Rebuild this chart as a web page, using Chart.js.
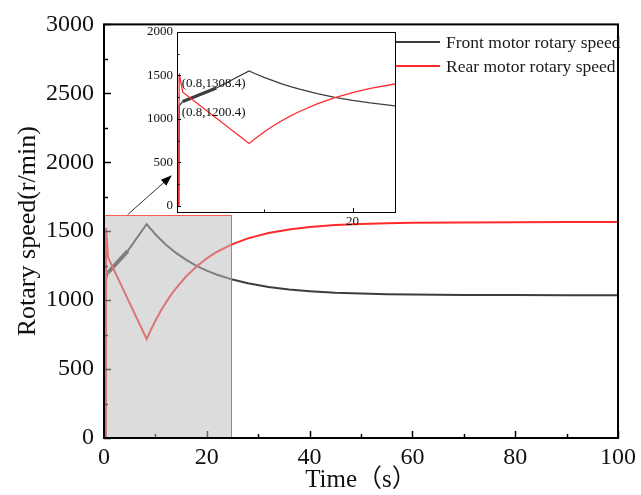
<!DOCTYPE html>
<html>
<head>
<meta charset="utf-8">
<script src="https://cdn.jsdelivr.net/npm/chart.js@4.4.1/dist/chart.umd.min.js"></script>
<style>
	html, body { margin: 0; padding: 0; background: #fff; }
	#wrap { position: relative; width: 641px; height: 495px; }
	#main { position: absolute; left: 0; top: 0; }
	#inset { position: absolute; left: 130px; top: 20px; }
</style>
</head>
<body>
<div id="wrap">
	<canvas id="main" width="641" height="495"></canvas>
	<canvas id="inset" width="280" height="215"></canvas>
</div>
<script>
'use strict';

// Series labels
var SERIES_NAMES = ['Front motor rotary speed', 'Rear motor rotary speed'];

// Front motor speed (r/min) against time (s)
var FRONT_TIME = [0, 0.35, 0.4, 0.8, 4.6, 8.3, 9, 10, 11, 12, 13, 14, 16, 18, 20, 22, 25, 28, 32, 36, 40, 45, 50, 55, 60, 70, 80, 90, 100];
var FRONT_SPEED = [0, 0, 1150, 1200.4, 1356, 1552, 1520, 1478, 1440, 1404, 1372, 1343, 1292, 1249, 1214, 1184, 1149, 1122, 1095, 1077, 1065, 1054, 1048, 1043, 1041, 1038, 1037, 1036, 1036];

// Rear motor speed (r/min) against time (s)
var REAR_TIME = [0, 0.35, 0.4, 0.8, 8.3, 9, 10, 11, 12, 13, 14, 16, 18, 20, 22, 25, 28, 32, 36, 40, 45, 50, 55, 60, 70, 80, 90, 100];
var REAR_SPEED = [0, 0, 1525, 1308.4, 718, 775, 850, 919, 980, 1036, 1086, 1173, 1244, 1303, 1351, 1406, 1448, 1487, 1513, 1530, 1545, 1553, 1558, 1561, 1564, 1565, 1566, 1566];

// Oscillating start of the front motor (drawn thicker)
var FRONT_BAND = [0.8, 4.6];

// Marked points in the zoomed view
var MARKS = [[0.8, 1308.4], [0.8, 1200.4]];

// Zoomed window: time and speed range
var ZOOM_TIME = [0, 24.8];
var ZOOM_SPEED = [0, 1615];

// Axis ticks
var X_TICKS = [0, 20, 40, 60, 80, 100];
var Y_TICKS = [0, 500, 1000, 1500, 2000, 2500, 3000];
var INSET_X_TICKS = [20];
var INSET_Y_TICKS = [0, 500, 1000, 1500, 2000];

var FONT = "'Liberation Serif', 'Noto Sans CJK SC', serif";
var FRONT_COLOR = '#3d3d3d';
var REAR_COLOR = '#ff2b2b';

Chart.defaults.font.family = FONT;
Chart.defaults.color = '#111';

function points(xs, ys) {
	return xs.map(function(x, i) { return { x: x, y: ys[i] }; });
}

function plain(v) {
	return String(v);
}

function bandWidth(normal, thick) {
	return function(ctx) {
		var a = ctx.p0.parsed.x, b = ctx.p1.parsed.x;
		return (a >= FRONT_BAND[0] && b <= FRONT_BAND[1]) ? thick : normal;
	};
}

function makeDatasets(width, thick) {
	return [ {
		label: SERIES_NAMES[0],
		data: points(FRONT_TIME, FRONT_SPEED),
		borderColor: FRONT_COLOR,
		borderWidth: width,
		pointRadius: 0,
		order: 1,
		segment: { borderWidth: bandWidth(width, thick) }
	}, {
		label: SERIES_NAMES[1],
		data: points(REAR_TIME, REAR_SPEED),
		borderColor: REAR_COLOR,
		borderWidth: width,
		pointRadius: 0,
		order: 0
	} ];
}

// inward tick marks on the left and bottom axes
function inwardTicks(chart, majorLen, minorLen, minorStep, majorList, lw) {
	var ctx = chart.ctx, a = chart.chartArea;
	ctx.save();
	ctx.strokeStyle = '#000';
	ctx.lineWidth = lw;
	['x', 'y'].forEach(function(id) {
		var s = chart.scales[id];
		var step = minorStep[id];
		var start = Math.ceil(s.min / step);
		var end = Math.floor(s.max / step);
		for (var k = start; k <= end; k++) {
			var v = k * step;
			var len = majorList[id].indexOf(v) >= 0 ? majorLen : minorLen;
			var p = Math.round(s.getPixelForValue(v)) + 0.5;
			ctx.beginPath();
			if (id === 'x') {
				ctx.moveTo(p, a.bottom);
				ctx.lineTo(p, a.bottom - len);
			} else {
				ctx.moveTo(a.left, p);
				ctx.lineTo(a.left + len, p);
			}
			ctx.stroke();
		}
	});
	ctx.restore();
}

function setTicks(values) {
	return function(scale) {
		scale.ticks = values.map(function(v) { return { value: v }; });
	};
}

/*================ Main chart ================*/

var mainDecor = {
	id: 'mainDecor',
	afterDatasetsDraw: function(chart) {
		var ctx = chart.ctx, a = chart.chartArea;
		var sx = chart.scales.x, sy = chart.scales.y;

		inwardTicks(chart, 7, 4, { x: 10, y: 250 }, { x: X_TICKS, y: Y_TICKS }, 1.5);

		// shaded zoom window
		var x0 = sx.getPixelForValue(ZOOM_TIME[0]), x1 = sx.getPixelForValue(ZOOM_TIME[1]);
		var y0 = sy.getPixelForValue(ZOOM_SPEED[1]), y1 = sy.getPixelForValue(ZOOM_SPEED[0]);
		ctx.save();
		ctx.fillStyle = 'rgba(187,187,187,0.52)';
		ctx.fillRect(x0, y0, x1 - x0, y1 - y0);
		ctx.strokeStyle = '#ff5a5a';
		ctx.lineWidth = 1;
		ctx.strokeRect(Math.round(x0) + 0.5, Math.round(y0) + 0.5, Math.round(x1 - x0), Math.round(y1 - y0));

		// frame
		ctx.strokeStyle = '#000';
		ctx.lineWidth = 2;
		ctx.strokeRect(a.left, a.top, a.right - a.left, a.bottom - a.top);

		// arrow towards the zoomed view
		var ax0 = sx.getPixelForValue(4.6), ay0 = sy.getPixelForValue(1620);
		var ax1 = sx.getPixelForValue(13.2), ay1 = sy.getPixelForValue(1905);
		var ang = Math.atan2(ay1 - ay0, ax1 - ax0);
		ctx.lineWidth = 0.8;
		ctx.beginPath();
		ctx.moveTo(ax0, ay0);
		ctx.lineTo(ax1 - 8 * Math.cos(ang), ay1 - 8 * Math.sin(ang));
		ctx.stroke();
		ctx.fillStyle = '#000';
		ctx.beginPath();
		ctx.moveTo(ax1, ay1);
		ctx.lineTo(ax1 - 11 * Math.cos(ang) + 4 * Math.sin(ang), ay1 - 11 * Math.sin(ang) - 4 * Math.cos(ang));
		ctx.lineTo(ax1 - 11 * Math.cos(ang) - 4 * Math.sin(ang), ay1 - 11 * Math.sin(ang) + 4 * Math.cos(ang));
		ctx.closePath();
		ctx.fill();

		// legend
		ctx.font = '17.5px ' + FONT;
		ctx.textBaseline = 'middle';
		ctx.textAlign = 'left';
		chart.data.datasets.forEach(function(ds, i) {
			var y = 42 + i * 24;
			ctx.strokeStyle = ds.borderColor;
			ctx.lineWidth = 2;
			ctx.beginPath();
			ctx.moveTo(380, y);
			ctx.lineTo(440, y);
			ctx.stroke();
			ctx.fillStyle = '#1a1a1a';
			ctx.fillText(ds.label, 446, y + 1);
		});
		ctx.restore();
	}
};

new Chart(document.getElementById('main'), {
	type: 'line',
	data: { datasets: makeDatasets(2, 4) },
	options: {
		responsive: false,
		animation: false,
		devicePixelRatio: 1,
		layout: { padding: { left: 0, top: 22, right: 20, bottom: 0 } },
		plugins: { legend: { display: false }, tooltip: { enabled: false } },
		scales: {
			x: {
				type: 'linear',
				min: 0,
				max: 100,
				afterBuildTicks: setTicks(X_TICKS),
				afterFit: function(s) { s.height = 57; },
				grid: { display: false, drawTicks: false },
				border: { display: false },
				ticks: { padding: 5, font: { size: 24 }, color: '#111', maxRotation: 0, callback: plain },
				title: { display: true, text: 'Time（s）', font: { size: 25 }, color: '#111', padding: { top: 0, bottom: 0 } }
			},
			y: {
				min: 0,
				max: 3000,
				afterBuildTicks: setTicks(Y_TICKS),
				afterFit: function(s) { s.width = 104; },
				grid: { display: false, drawTicks: false },
				border: { display: false },
				ticks: { padding: 10, font: { size: 24 }, color: '#111', callback: plain },
				title: { display: true, text: 'Rotary speed(r/min)', font: { size: 26 }, color: '#111', padding: { top: 13, bottom: 0 } }
			}
		}
	},
	plugins: [ mainDecor ]
});

/*================ Zoomed view ================*/

var insetDecor = {
	id: 'insetDecor',
	beforeDraw: function(chart) {
		var ctx = chart.ctx, a = chart.chartArea;
		ctx.save();
		ctx.fillStyle = '#fff';
		ctx.fillRect(a.left, a.top, a.right - a.left, a.bottom - a.top);
		ctx.restore();
	},
	afterDatasetsDraw: function(chart) {
		var ctx = chart.ctx, a = chart.chartArea;
		var sx = chart.scales.x, sy = chart.scales.y;

		inwardTicks(chart, 4, 2.5, { x: 10, y: 250 }, { x: INSET_X_TICKS, y: INSET_Y_TICKS }, 1);

		ctx.save();
		ctx.strokeStyle = '#000';
		ctx.lineWidth = 1;
		ctx.strokeRect(Math.round(a.left) + 0.5, Math.round(a.top) + 0.5, Math.round(a.right - a.left), Math.round(a.bottom - a.top));

		ctx.font = '13px ' + FONT;
		ctx.fillStyle = '#111';
		ctx.textAlign = 'left';
		ctx.textBaseline = 'middle';
		MARKS.forEach(function(m, i) {
			var px = sx.getPixelForValue(m[0]) - 1;
			var py = sy.getPixelForValue(m[1]) + (i === 0 ? -9 : 11);
			ctx.fillText('(' + m[0] + ',' + m[1] + ')', px, py);
		});
		ctx.restore();
	}
};

new Chart(document.getElementById('inset'), {
	type: 'line',
	data: { datasets: makeDatasets(1.3, 3.2) },
	options: {
		responsive: false,
		animation: false,
		devicePixelRatio: 1,
		layout: { padding: { left: 0, top: 12, right: 15, bottom: 0 } },
		plugins: { legend: { display: false }, tooltip: { enabled: false } },
		scales: {
			x: {
				type: 'linear',
				min: 0.15,
				max: 24.8,
				afterBuildTicks: setTicks(INSET_X_TICKS),
				afterFit: function(s) { s.height = 23; },
				grid: { display: false, drawTicks: false },
				border: { display: false },
				ticks: { padding: 2, font: { size: 13 }, color: '#111', maxRotation: 0, callback: plain }
			},
			y: {
				min: -70,
				max: 2000,
				afterBuildTicks: setTicks(INSET_Y_TICKS),
				afterFit: function(s) { s.width = 47; },
				grid: { display: false, drawTicks: false },
				border: { display: false },
				ticks: { padding: 4, font: { size: 13 }, color: '#111', callback: plain }
			}
		}
	},
	plugins: [ insetDecor ]
});
</script>
</body>
</html>
